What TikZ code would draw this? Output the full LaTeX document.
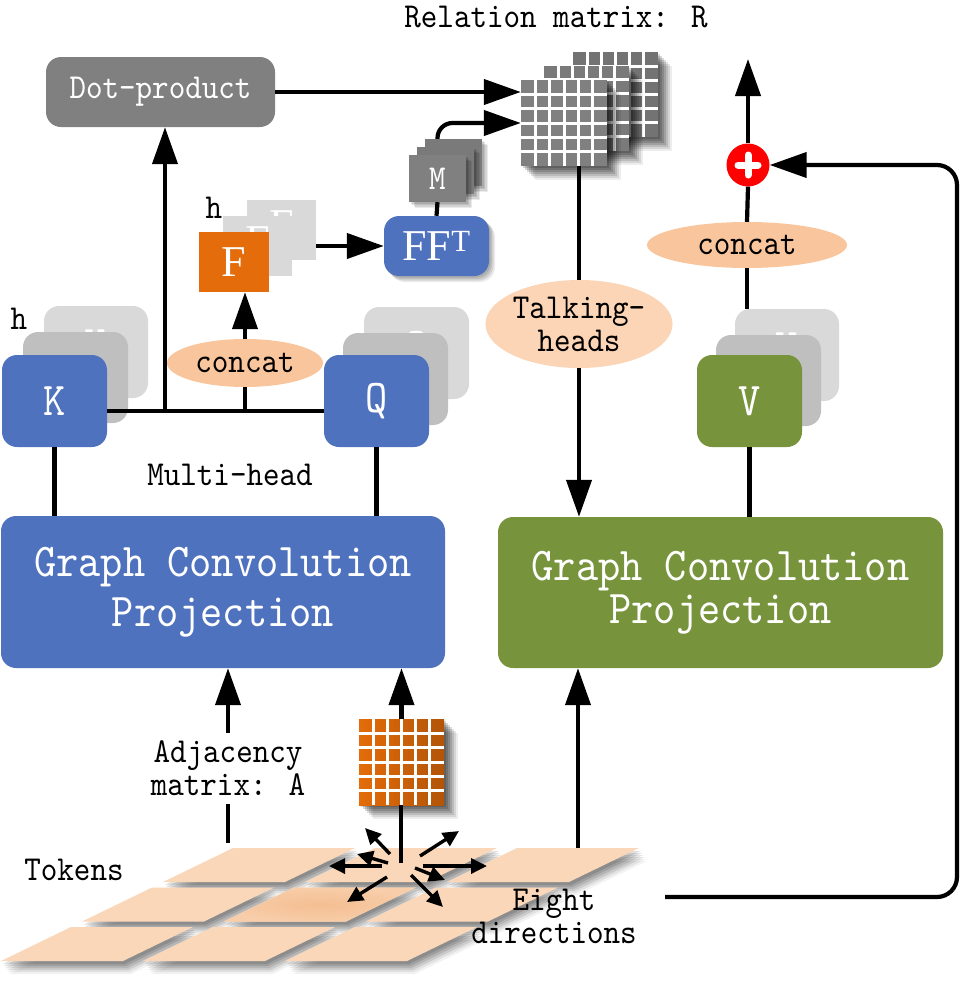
\documentclass[tikz,border=0pt]{standalone}
\usepackage{fontspec}
\usetikzlibrary{arrows.meta,shapes.geometric,calc}
\newfontfamily\monof{lmmono10-regular.otf}[FakeStretch=0.9]
\newfontfamily\seriff{Liberation Serif}
\newcommand\fsmall{\monof\fontsize{35}{33}\selectfont}
\newcommand\fbigL{\monof\fontsize{47}{50}\selectfont}
\newcommand\fbigR{\monof\fontsize{47}{43}\selectfont}
\newcommand\fserif{\seriff\fontsize{44}{44}\selectfont}
\definecolor{myblue}{HTML}{4F72BE}
\definecolor{mygreen}{HTML}{77933C}
\definecolor{myorange}{HTML}{E46C0A}
\definecolor{mygray}{HTML}{808080}
\definecolor{lgray}{HTML}{D9D9D9}
\definecolor{mgray}{HTML}{BFBFBF}
\definecolor{peach}{HTML}{FBD5B5}
\definecolor{concatc}{HTML}{F8C59C}
\definecolor{tokenc}{HTML}{FAD7B8}
\definecolor{tokendark}{HTML}{F4BE92}
\newcommand\mygrid[1]{%
  \foreach \i in {1,...,5}{%
    \draw[white,line width=3pt] ($(#1.north west)!\i/6!(#1.north east)$) -- ($(#1.south west)!\i/6!(#1.south east)$);
    \draw[white,line width=3pt] ($(#1.north west)!\i/6!(#1.south west)$) -- ($(#1.north east)!\i/6!(#1.south east)$);
  }}
\begin{document}
\begin{tikzpicture}[x=1pt,y=-1pt,
  ln/.style={line width=4.2pt,black},
  arr/.style={line width=4.2pt,black,-{Triangle[length=37pt,width=25pt,fill=black]}},
  sarr/.style={line width=3.4pt,black,-{Triangle[length=16pt,width=15pt,fill=black]}},
  rbox/.style={rounded corners=15pt,inner sep=0pt,text=white,font=\fbigL,minimum width=105pt,minimum height=92pt},
  sqbox/.style={inner sep=0pt,text=white,font=\fserif,minimum width=69pt,minimum height=60pt},
  mbox/.style={inner sep=0pt,text=white,font=\fsmall,minimum width=57pt,minimum height=47pt,fill=black!52,gshd},
  matbox/.style={inner sep=0pt,minimum width=85pt,minimum height=85pt},
  lbl/.style={inner sep=0pt,font=\fsmall,align=center},
  ell/.style={ellipse,inner sep=0pt,font=\fsmall,align=center},
  shk/.style 2 args={preaction={fill=black,opacity=#1,transform canvas={xshift=#2pt,yshift=-#2pt}}},
  gshd/.style={shk={0.10}{1.5},shk={0.10}{3},shk={0.10}{4.5},shk={0.08}{6}},
  mshd/.style={shk={0.16}{2},shk={0.16}{4},shk={0.15}{6},shk={0.14}{8},shk={0.12}{10},shk={0.10}{12},shk={0.07}{14}},
  tshk/.style 2 args={preaction={fill=black,opacity=#1,transform canvas={xshift=0.6*#2pt,yshift=-#2pt}}},
  tshd/.style={tshk={0.12}{3},tshk={0.12}{5},tshk={0.10}{7},tshk={0.10}{9},tshk={0.07}{11},tshk={0.05}{13}},
]
\useasboundingbox (0,0) rectangle (962,991);

% ---------- tokens ----------
\foreach \i in {0,1,2}{\foreach \j in {0,1,2}{
  \pgfmathsetmacro\bx{163-81*\i+142*\j}
  \pgfmathsetmacro\by{882+39.5*\i}
  \fill[tokenc,tshd] (\bx,\by) -- ++(122,0) -- ++(70,-34) -- ++(-122,0) -- cycle;
}}
\shade[inner color=tokendark,outer color=tokenc!60!tokendark] (224,921.5) -- ++(122,0) -- ++(70,-34) -- ++(-122,0) -- cycle;

% ---------- nodes ----------
\node[rbox,fill=mygray,minimum width=229pt,minimum height=70pt,font=\fsmall] (dot) at (160.5,92) {Dot-product};
\node[lbl] (title) at (556,17) {Relation matrix: R};

\node[matbox,fill=black!55,mshd] (rel3) at (615.5,94.5) {};
\mygrid{rel3}
\node[matbox,fill=black!52,mshd] (rel2) at (586.5,108) {};
\mygrid{rel2}
\node[matbox,minimum height=86pt,minimum width=86pt,fill=black!50,mshd] (rel1) at (564,123) {};
\mygrid{rel1}

\node[sqbox,fill=lgray] (fback) at (281.5,230) {\raisebox{10pt}{F}};
\node[sqbox,fill=lgray] (fmid) at (257.5,246) {\raisebox{10pt}{F}};
\node[sqbox,fill=myorange,minimum width=70pt] (fo) at (234,262) {F};
\node[lbl] (h1) at (214,208) {h};

\node[rbox,fill=myblue,minimum height=60pt,font=\fserif,gshd] (ff) at (436.5,246) {FF\textsuperscript{T}};

\node[circle,fill=red,minimum size=43pt,inner sep=0pt] (plus) at (748,165) {};
\draw[white,line width=7pt,line cap=round] ($(plus.center)+(-10,0)$) -- ($(plus.center)+(10,0)$);
\draw[white,line width=7pt,line cap=round] ($(plus.center)+(0,-10)$) -- ($(plus.center)+(0,10)$);
\coordinate (outtop) at (748,59);

\node[ell,fill=concatc,minimum width=200pt,minimum height=46pt] (cr) at (747,245) {concat};
\node[ell,fill=peach,minimum width=186pt,minimum height=88pt] (th) at (579,324) {Talking-\\heads};

\node[rbox,fill=lgray,minimum width=104pt] (vback) at (787,355) {\raisebox{15pt}{V}};
\node[rbox,fill=mgray,minimum height=91pt] (vmid) at (768.5,380.5) {\raisebox{15pt}{V}};
\node[rbox,fill=mygreen] (V) at (749.5,401) {V};

\node[rbox,fill=lgray,minimum width=104pt] (kback) at (96,352) {\raisebox{15pt}{K}};
\node[rbox,fill=mgray,minimum height=91pt] (kmid) at (75.5,377.5) {\raisebox{15pt}{K}};
\node[rbox,fill=myblue] (K) at (54.5,401) {K};
\node[lbl] (h2) at (19,319) {h};

\node[rbox,fill=lgray] (qback) at (416.5,353) {\raisebox{15pt}{Q}};
\node[rbox,fill=mgray] (qmid) at (395.5,379) {\raisebox{15pt}{Q}};
\node[rbox,fill=myblue] (Q) at (376.5,401) {Q};

\node[ell,fill=concatc,minimum width=156pt,minimum height=48pt] (cl) at (245,363) {concat};
\node[lbl] (mh) at (230,475) {Multi-head};

\node[rbox,fill=myblue,minimum width=444pt,minimum height=152pt,align=center] (gl) at (223,592) {Graph Convolution\\Projection};
\node[rbox,fill=mygreen,minimum width=445pt,minimum height=151pt,align=center,font=\fbigR] (gr) at (720.5,592.5) {Graph Convolution\\Projection};

\node[lbl,minimum height=71pt] (adj) at (228,768.5) {Adjacency\\matrix: A};
\coordinate (adjb) at (228,843);
\coordinate (ctr) at (401,863);
\coordinate (tk3) at (578,848);
\coordinate (fbstart) at (665,897);
\coordinate (fbcorner) at (957,165);

\node[lbl] (tok) at (74,870) {Tokens};
\node[lbl] (eight) at (554,916.5) {Eight\\directions};

% ---------- M stack ----------
\node[mbox] (mback) at (453.5,162.5) {};
\node[mbox] (mmid) at (445.5,170.5) {};
\node[mbox,fill=black!50] (M) at (437.5,178.5) {M};

% orange adjacency matrix
\node[matbox,minimum height=86pt,left color=myorange,right color=myorange!78!black,mshd] (om) at (401.5,762) {};
\mygrid{om}

% ---------- connectors ----------
\draw[arr] (dot.east) -- (dot.east -| rel1.west);
\draw[ln] (ff.north) -- (M.south);
\draw[arr,rounded corners=15pt] (M.north |- mback.north) |- (rel1.west);

\draw[arr] (fback.east |- ff.west) -- (ff.west);

\draw[ln] ($(K.east)+(0,10)$) -- ($(Q.west)+(0,10)$);
\coordinate (j1) at (165,411);
\coordinate (j2) at (245,411);
\draw[arr] (j1) -- (j1 |- dot.south);
\draw[ln] (j2) -- (j2 |- cl.south);
\draw[arr] (cl.north) -- (cl.north |- fo.south);
\draw[ln] (K.south) -- (K.south |- gl.north);
\draw[ln] (Q.south) -- (Q.south |- gl.north);

\draw[ln] (th.north |- rel1.south) -- (th.north);
\draw[arr] (th.south) -- (th.south |- gr.north);
\draw[ln] (V.south) -- (V.south |- gr.north);
\draw[ln] (cr.south) -- (cr.south |- vback.north);
\draw[ln] (cr.north) -- (plus.south);
\draw[arr] (plus.north) -- (outtop);
\draw[arr,rounded corners=20pt] (fbstart) -| (fbcorner) -- (plus.east);

\draw[arr] (adj.north) -- (adj.north |- gl.south);
\draw[ln] (adjb) -- (adj.south);
\draw[arr] (om.north) -- (om.north |- gl.south);
\draw[ln] (ctr) -- (ctr |- om.south);
\draw[arr] (tk3) -- (tk3 |- gr.south);

% eight directions
\draw[sarr] ($(ctr)+(-11,-9)$) -- ($(ctr)+(-36,-35)$);
\draw[sarr] ($(ctr)+(19,-7)$) -- ($(ctr)+(58,-32)$);
\draw[sarr] ($(ctr)+(-19,3)$) -- ($(ctr)+(-72,3)$);
\draw[sarr] ($(ctr)+(-13,0)$) -- ($(ctr)+(-44,-9)$);
\draw[sarr] ($(ctr)+(22,3)$) -- ($(ctr)+(86,3)$);
\draw[sarr] ($(ctr)+(14,5)$) -- ($(ctr)+(44,17)$);
\draw[sarr] ($(ctr)+(-14,14)$) -- ($(ctr)+(-54,39)$);
\draw[sarr] ($(ctr)+(10,12)$) -- ($(ctr)+(42,44)$);
\end{tikzpicture}
\end{document}
